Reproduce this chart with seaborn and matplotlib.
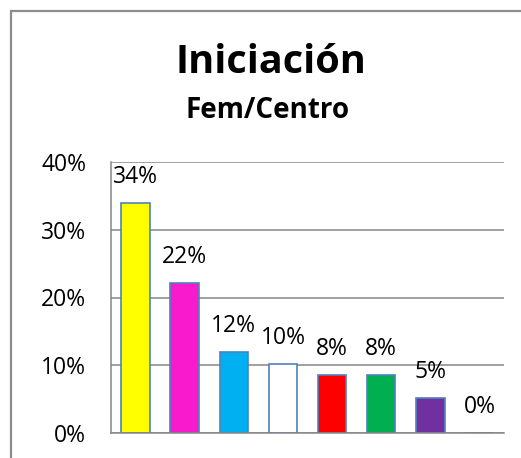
import matplotlib
matplotlib.use('Agg')
import matplotlib.pyplot as plt
import matplotlib.ticker as mticker
import seaborn as sns
import pandas as pd

# Data
categories = ['C1', 'C2', 'C3', 'C4', 'C5', 'C6', 'C7', 'C8']
values = [0.34, 0.221, 0.119, 0.102, 0.085, 0.085, 0.051, 0.0]
labels = ['34%', '22%', '12%', '10%', '8%', '8%', '5%', '0%']
colors = ['#FFFF00', '#F81ACC', '#00B0F0', '#FFFFFF', '#FF0000', '#00B050', '#7030A0', '#FFFFFF']
y_ticks = [0, 0.1, 0.2, 0.3, 0.4]

df = pd.DataFrame({'cat': categories, 'val': values})

sns.set_style('white')
plt.rcParams['font.family'] = ['Open Sans', 'DejaVu Sans']
plt.rcParams['text.color'] = 'black'
plt.rcParams['ytick.color'] = 'black'

fig = plt.figure(figsize=(5.21, 4.58), dpi=100)
ax = fig.add_axes([111/521, 1 - 433/458, (504 - 111)/521, (433 - 162)/458])

sns.barplot(data=df, x='cat', y='val', hue='cat', palette=colors, legend=False,
            saturation=1, width=0.58, edgecolor='#4F81BD', linewidth=1.2, ax=ax)

ax.set_xlim(-0.5, 7.5)
ax.set_ylim(0, 0.4)
ax.set_yticks(y_ticks)
ax.yaxis.set_major_formatter(mticker.FuncFormatter(lambda v, _: f'{v*100:.0f}%'))
ax.tick_params(axis='y', length=0, pad=18, labelsize=16.5, labelcolor='black')
ax.set_xticks([])
ax.set_xlabel('')
ax.set_ylabel('')

ax.grid(axis='y', color='#868686', linewidth=1.1)
ax.set_axisbelow(True)
for side in ['top', 'right']:
    ax.spines[side].set_visible(False)
for side in ['left', 'bottom']:
    ax.spines[side].set_color('#868686')
    ax.spines[side].set_linewidth(1.1)

# value labels above bars
for i, (v, lab) in enumerate(zip(values, labels)):
    ax.annotate(lab, (i, v), xytext=(0, 14.4), textcoords='offset points',
                ha='center', va='baseline', fontsize=16.5, color='black')

fig.text(271/521, 1 - 73/458, 'Iniciación', ha='center', va='baseline',
         fontsize=28.5, fontweight='bold', color='black')
fig.text(268/521, 1 - 118/458, 'Fem/Centro', ha='center', va='baseline',
         fontsize=20, fontweight='bold', color='black')

# chart frame (top and left edges visible)
fig.add_artist(plt.Rectangle((11/521, -0.1), 1.2, 1.1 - 11/458, transform=fig.transFigure,
                             fill=False, edgecolor='#8c8c8c', linewidth=1.6))

fig.savefig('out.png', dpi=100)
